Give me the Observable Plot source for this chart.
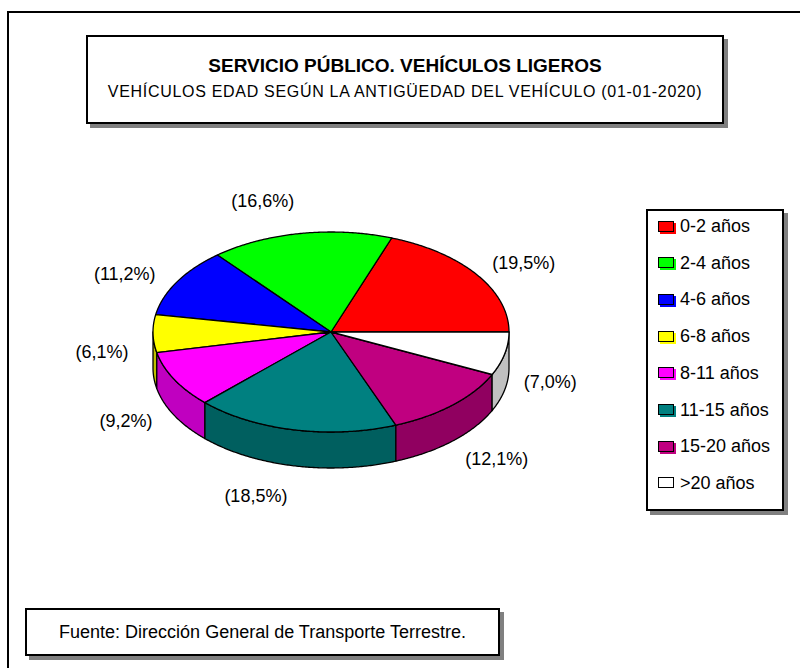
<!DOCTYPE html>
<html><head><meta charset="utf-8">
<script src="https://cdn.jsdelivr.net/npm/d3@7"></script>
<script src="https://cdn.jsdelivr.net/npm/@observablehq/plot@0.6"></script>
<style>
html,body{margin:0;padding:0;background:#fff;}
#wrap{position:relative;width:800px;height:668px;overflow:hidden;font-family:"Liberation Sans",Arial,sans-serif;color:#000;}
#wrap svg{position:absolute;left:0;top:0;}
.box{position:absolute;box-sizing:border-box;border:2px solid #000;background:#fff;box-shadow:4px 4px 0 #808080;}
.frame{position:absolute;left:7px;top:11px;width:900px;height:900px;border:2px solid #000;box-sizing:border-box;}
.txt{position:absolute;white-space:nowrap;}
.item{position:absolute;left:658px;height:20px;display:flex;align-items:center;font-size:18px;line-height:20px;}
.sw{width:14px;height:9px;border:1.5px solid #000;margin-right:6px;}
</style></head>
<body><div id="wrap"></div>
<script>
const categories = ["0-2 años","2-4 años","4-6 años","6-8 años","8-11 años","11-15 años","15-20 años",">20 años"];
const shares = [19.5, 16.6, 11.2, 6.1, 9.2, 18.5, 12.1, 7.0];
const topColors = ["#ff0000","#00ff00","#0000ff","#ffff00","#ff00ff","#008080","#c00080","#ffffff"];
const sideColors = ["#c00000","#00c000","#0000c0","#c0c000","#c000c0","#005f5f","#900060","#c0c0c0"];
const title = "SERVICIO PÚBLICO. VEHÍCULOS LIGEROS";
const subtitle = "VEHÍCULOS EDAD SEGÚN LA ANTIGÜEDAD DEL VEHÍCULO (01-01-2020)";
const source = "Fuente: Dirección General de Transporte Terrestre.";

const W = 800, H = 668;
const cx = 331, cy = 332, rx = 178, ry = 100, depth = 36;
const total = d3.sum(shares);
let acc = 0;
const slices = shares.map((v, i) => {
  const a0 = acc / total * 2 * Math.PI; acc += v;
  const a1 = acc / total * 2 * Math.PI;
  return {i, v, a0, a1, mid: (a0 + a1) / 2};
});
const step = Math.PI / 360;
function arcPts(a0, a1) {
  const n = Math.max(2, Math.ceil((a1 - a0) / step));
  return d3.range(n + 1).map(k => a0 + (a1 - a0) * k / n);
}
const tops = slices.flatMap(s => arcPts(s.a0, s.a1).map(t => ({
  key: s.i, fill: topColors[s.i],
  x1: cx + rx * Math.cos(t), y1: cy - ry * Math.sin(t), x2: cx, y2: cy
})));
const sides = slices.flatMap(s => {
  const s0 = Math.max(s.a0, Math.PI), s1 = Math.min(s.a1, 2 * Math.PI);
  if (s1 <= s0) return [];
  return arcPts(s0, s1).map(t => {
    const x = cx + rx * Math.cos(t), y = cy - ry * Math.sin(t);
    return {key: s.i, fill: sideColors[s.i], x1: x, y1: y, x2: x, y2: y + depth};
  });
});
const labelRows = slices.map(s => ({
  text: `(${s.v.toFixed(1).replace(".", ",")}%)`,
  x: cx - 3 + 200 * Math.cos(s.mid),
  y: cy + 17 - 150 * Math.sin(s.mid),
  right: Math.cos(s.mid) >= 0
}));

const chart = Plot.plot({
  width: W, height: H, margin: 0,
  x: {domain: [0, W], range: [0, W], axis: null},
  y: {domain: [0, H], range: [0, H], axis: null},
  color: {type: "identity"},
  style: {background: "transparent", fontFamily: '"Liberation Sans", Arial, sans-serif', color: "#000"},
  marks: [
    Plot.area(sides, {x1: "x1", y1: "y1", x2: "x2", y2: "y2", z: "key", fill: "fill", stroke: "#000", strokeWidth: 1.3, strokeLinejoin: "round"}),
    Plot.area(tops, {x1: "x1", y1: "y1", x2: "x2", y2: "y2", z: "key", fill: "fill", stroke: "#000", strokeWidth: 1.3, strokeLinejoin: "round"}),
    Plot.text(labelRows.filter(d => d.right), {x: "x", y: "y", text: "text", textAnchor: "start", fontSize: 18, fill: "#000"}),
    Plot.text(labelRows.filter(d => !d.right), {x: "x", y: "y", text: "text", textAnchor: "end", fontSize: 18, fill: "#000"})
  ]
});
const wrap = document.getElementById("wrap");
wrap.appendChild(chart);

function el(cls, style, text) {
  const d = document.createElement("div");
  d.className = cls; Object.assign(d.style, style);
  if (text != null) d.textContent = text;
  wrap.appendChild(d); return d;
}
el("frame", {});
el("box", {left: "86px", top: "35px", width: "638px", height: "89px"});
el("txt", {left: "86px", width: "638px", top: "56px", textAlign: "center", font: '700 19px/19px "Liberation Sans", Arial, sans-serif'}, title);
el("txt", {left: "86px", width: "638px", top: "84px", textAlign: "center", font: '400 16px/16px "Liberation Sans", Arial, sans-serif', letterSpacing: "0.7px"}, subtitle);

el("box", {left: "646px", top: "209px", width: "138px", height: "302px"});
categories.forEach((c, i) => {
  const it = el("item", {top: (226 + 36.7 * i - 10) + "px"});
  const sw = document.createElement("div");
  sw.className = "sw"; sw.style.background = topColors[i];
  sw.style.boxShadow = `2px 2px 0 ${topColors[i]}`;
  it.appendChild(sw);
  const sp = document.createElement("span"); sp.textContent = c; it.appendChild(sp);
});

el("box", {left: "25px", top: "608px", width: "475px", height: "48px"});
el("txt", {left: "25px", width: "475px", top: "622px", height: "20px", lineHeight: "20px", fontSize: "18px", textAlign: "center"}, source);
</script>
</body></html>
